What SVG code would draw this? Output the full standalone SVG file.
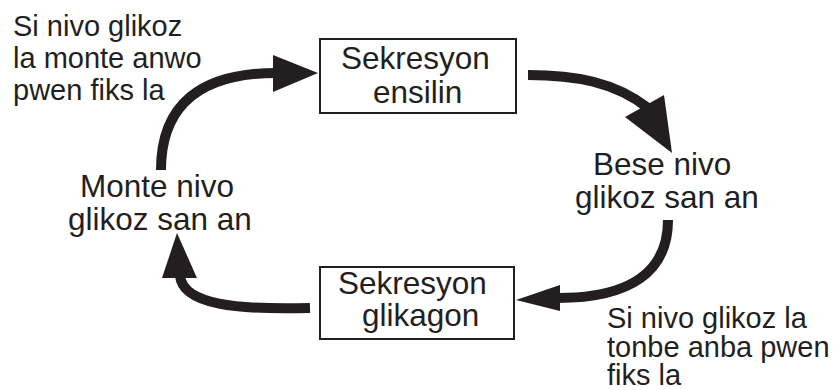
<svg xmlns="http://www.w3.org/2000/svg" width="836" height="390" viewBox="0 0 836 390">
<style>
text{font-family:"Liberation Sans",Arial,sans-serif;font-size:31.5px;fill:#231f20}
.note{font-size:29px}
.box{fill:#fff;stroke:#231f20;stroke-width:2}
.shaft{fill:none;stroke:#231f20;stroke-width:10}
.head{fill:#231f20}
</style>
<rect width="836" height="390" fill="#fff"/>
<g id="connectors">
<path class="shaft" d="M161,170 C161,105 200,73 276,73"/>
<polygon class="head" points="273,55 318,73 273,92"/>
<path class="shaft" d="M528,75 C575,75 615,82 648,108"/>
<polygon class="head" points="625,117 664,95 672,153"/>
<path class="shaft" d="M668,220 C668,272 630,298 558,298"/>
<polygon class="head" points="560,285 516,300 560,311"/>
<path class="shaft" d="M310,308 C238,310 183,305 180,276"/>
<polygon class="head" points="162,278 177,233 197,278"/>
</g>
<g id="box-ensilin">
<rect class="box" x="320" y="39" width="196" height="74"/>
<text x="341" y="69">Sekresyon</text>
<text x="373" y="103">ensilin</text>
</g>
<g id="box-glikagon">
<rect class="box" x="320" y="267" width="194" height="72"/>
<text x="338" y="294">Sekresyon</text>
<text x="362" y="326">glikagon</text>
</g>
<g id="bese">
<text x="593" y="175">Bese nivo</text>
<text x="575" y="208">glikoz san an</text>
</g>
<g id="monte">
<text x="80" y="197">Monte nivo</text>
<text x="68" y="230">glikoz san an</text>
</g>
<g id="note-top">
<text class="note" x="13" y="36">Si nivo glikoz</text>
<text class="note" x="13" y="68">la monte anwo</text>
<text class="note" x="13" y="100">pwen fiks la</text>
</g>
<g id="note-bottom">
<text class="note" x="607" y="328">Si nivo glikoz la</text>
<text class="note" x="607" y="357">tonbe anba pwen</text>
<text class="note" x="607" y="385">fiks la</text>
</g>
</svg>
